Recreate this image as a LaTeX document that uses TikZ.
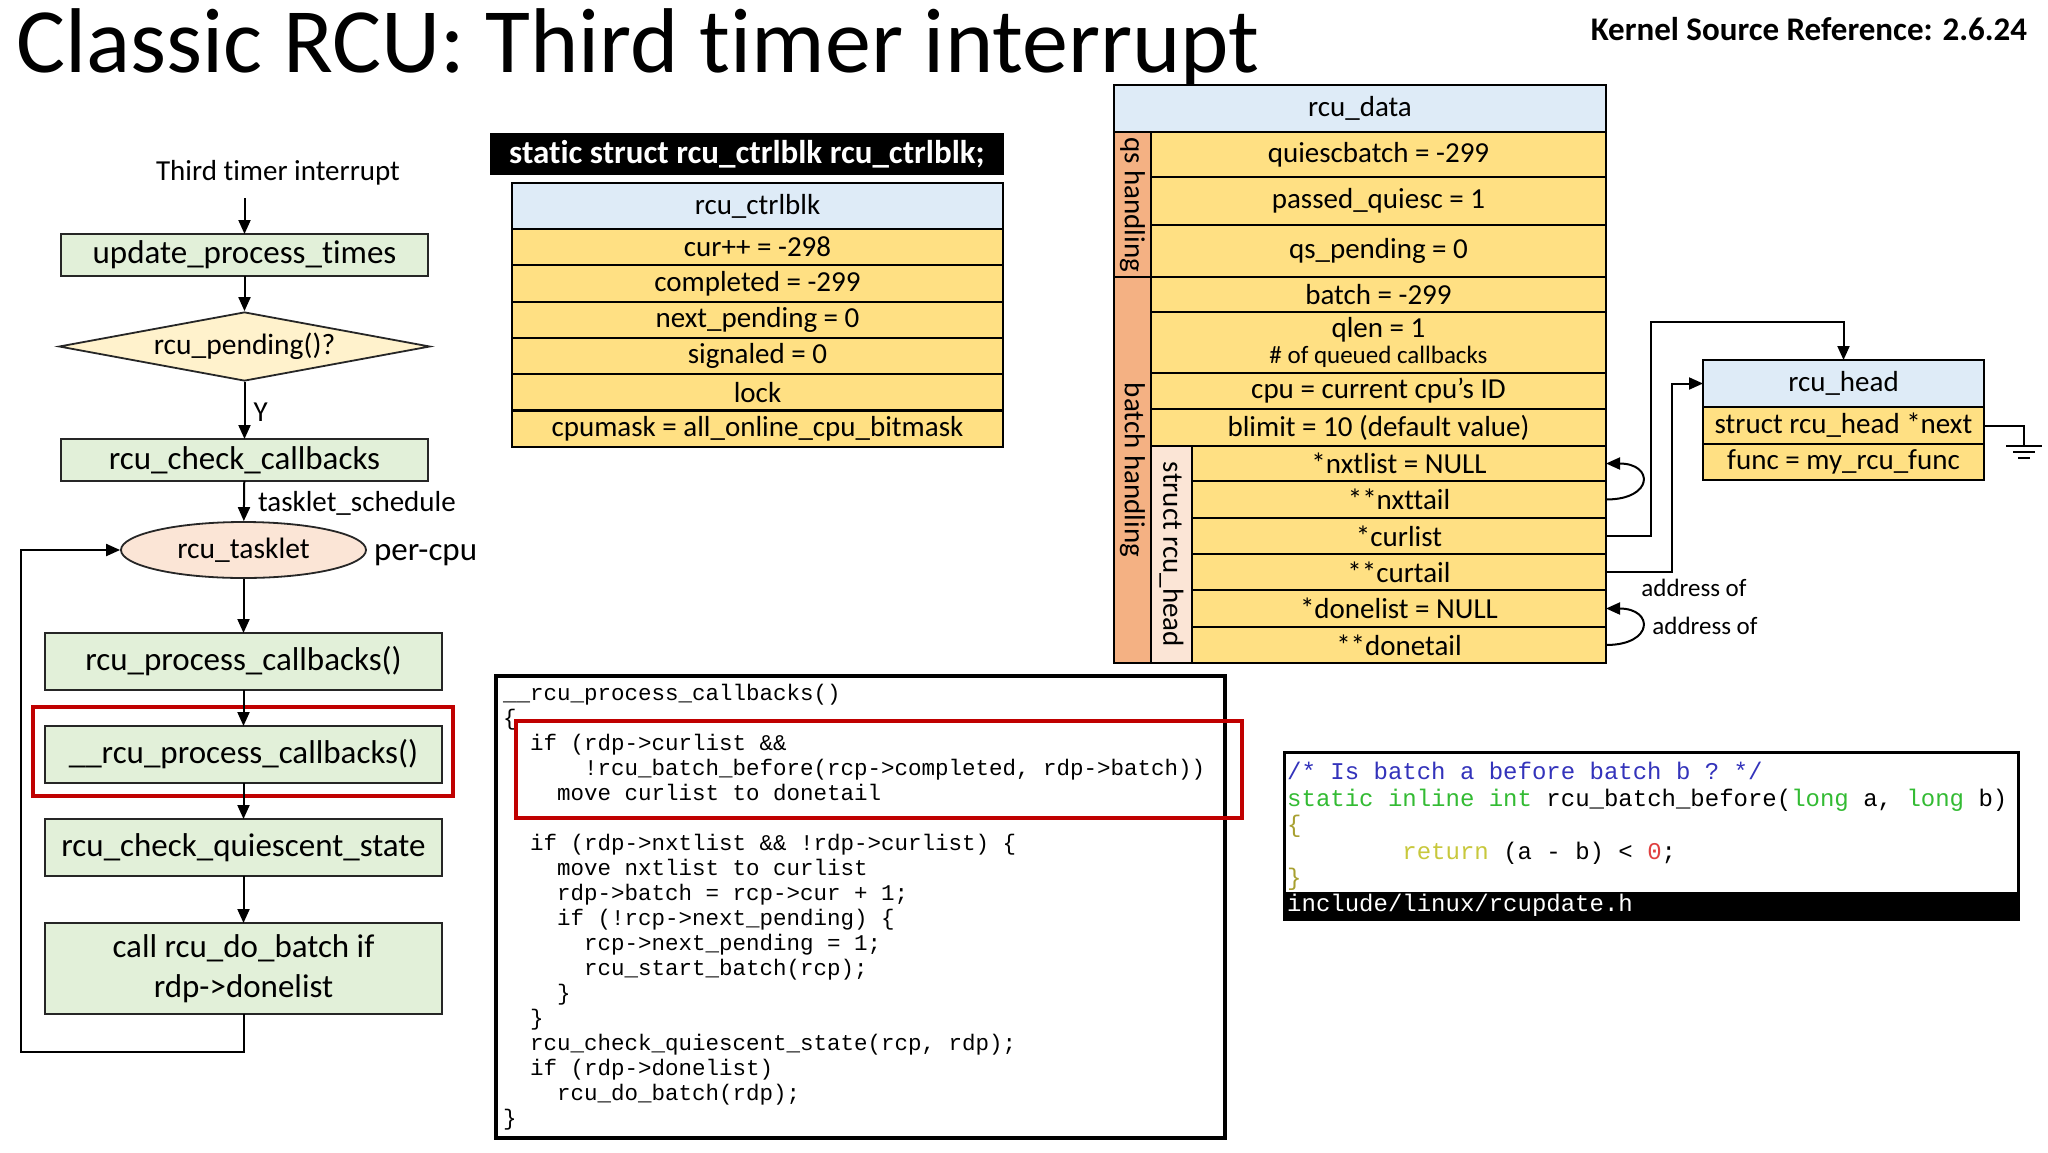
\documentclass[tikz,border=0pt]{standalone}
\usepackage{fontspec}
\setmainfont{Carlito}[Ligatures={TeX,NoCommon}]
\setmonofont{Liberation Mono}
\usetikzlibrary{arrows.meta,positioning,shapes.geometric,calc}
\definecolor{flowgreen}{HTML}{E2F0D9}
\definecolor{condyellow}{HTML}{FFF2CC}
\definecolor{taskpeach}{HTML}{FBE5D6}
\definecolor{headblue}{HTML}{DEEBF7}
\definecolor{fieldgold}{HTML}{FFE083}
\definecolor{grouporange}{HTML}{F4B183}
\definecolor{grouppink}{HTML}{FBE5D6}
\definecolor{markred}{HTML}{C00000}
\definecolor{cmtblue}{HTML}{3333BB}
\definecolor{kwgreen}{HTML}{33BB33}
\definecolor{retolive}{HTML}{C8C83C}
\definecolor{braceolive}{HTML}{A8A030}
\definecolor{numred}{HTML}{E04040}
\newcommand{\cind}[1]{\hspace*{#1\fontdimen2\font}}
\tikzset{
  flowbox/.style ={draw=black!85,line width=1.8pt,fill=flowgreen,align=center,inner sep=0pt,outer sep=0pt,
                   minimum width=397pt,minimum height=57pt,font=\fontsize{33}{40}\selectfont},
  cond/.style    ={draw=black!85,line width=1.8pt,fill=condyellow,diamond,aspect=5.4,inner sep=0pt,
                   minimum width=371pt,minimum height=69pt,font=\fontsize{29.5}{35}\selectfont},
  tasknode/.style={draw=black!85,line width=1.8pt,fill=taskpeach,ellipse,inner sep=0pt,
                   minimum width=245pt,minimum height=56pt,font=\fontsize{29.5}{35}\selectfont},
  arrow/.style   ={-{Triangle[length=14pt,width=12pt]},line width=2pt},
  note/.style    ={inner sep=0pt,font=\fontsize{29}{35}\selectfont},
  field/.style   ={draw,line width=2.2pt,fill=fieldgold,align=center,inner sep=0pt,outer sep=0pt,
                   font=\fontsize{29}{33}\selectfont},
  header/.style  ={field,fill=headblue},
  group/.style   ={draw,line width=2.2pt,rotate=-90,inner sep=0pt,outer sep=0pt,font=\fontsize{29}{33}\selectfont},
  codebox/.style ={draw,line width=4pt,fill=white,inner sep=0pt,outer sep=0pt},
  marker/.style  ={draw=markred,line width=4pt},
  code/.style    ={anchor=north west,align=left,inner sep=0pt}
}
\begin{document}
\begin{tikzpicture}[x=1pt,y=-1pt]
  \useasboundingbox (0,0) rectangle (2048,1152);
  \node[anchor=base west,inner sep=0pt,font=\fontsize{92}{100}\selectfont] (title) at (16,72) {Classic RCU: Third timer interrupt};
  \node[inner sep=0pt,font=\bfseries\fontsize{33}{40}\selectfont] (kref) at (1809,29) {Kernel Source Reference: 2.6.24};

  % flow chart
  \node[note] (trigger) at (278,173) {Third timer interrupt};
  \coordinate (entry) at (244.5,198);
  \node[flowbox,minimum width=367pt,minimum height=42pt] (upt) at (244.5,255) {update\_process\_times};
  \node[cond] (pend) at (244.5,346.5) {rcu\_pending()?};
  \node[flowbox,minimum width=367pt,minimum height=42pt] (chk) at (244.5,460) {rcu\_check\_callbacks};
  \node[tasknode] (task) at (243.5,550) {rcu\_tasklet};
  \node[note,font=\fontsize{33}{40}\selectfont,right=7pt of task,yshift=-5pt] (percpu) {per-cpu};
  \node[flowbox] (proc) at (243.5,661.5) {rcu\_process\_callbacks()};
  \node[flowbox] (uproc) at (243.5,754.5) {\_\_rcu\_process\_callbacks()};
  \node[flowbox] (quies) at (243.5,847.5) {rcu\_check\_quiescent\_state};
  \node[flowbox,minimum height=91pt] (dobatch) at (243.5,968.5) {call rcu\_do\_batch if\\rdp->donelist};
  \coordinate (loopc) at (21,1052);
  \draw[marker] (33,707) rectangle (453,796);
  \draw[arrow] (entry) -- (upt);
  \draw[arrow] (upt) -- (pend);
  \draw[arrow] (pend) -- node[note,right=8pt,yshift=-2pt] {Y} (chk);
  \draw[arrow] (chk) -- node[note,right=13pt,yshift=-2pt] {tasklet\_schedule} (task);
  \draw[arrow] (task) -- (proc);
  \draw[arrow] (proc) -- (uproc);
  \draw[arrow] (uproc) -- (quies);
  \draw[arrow] (quies) -- (dobatch);
  \draw[arrow] (dobatch.south) |- (loopc) |- (task.west);

  % rcu_ctrlblk
  \node[fill=black,text=white,inner sep=0pt,minimum width=514pt,minimum height=42pt,
        font=\bfseries\fontsize{33}{40}\selectfont] (cbtitle) at (747,154) {static struct rcu\_ctrlblk rcu\_ctrlblk;};
  \node[header,minimum width=491pt,minimum height=46pt] (cbhead) at (757.5,206) {rcu\_ctrlblk};
  \node[field,minimum width=491pt,minimum height=36.3pt,below=0pt of cbhead] (cbcur) {cur++ = -298};
  \node[field,minimum width=491pt,minimum height=36.3pt,below=0pt of cbcur]  (cbdone) {completed = -299};
  \node[field,minimum width=491pt,minimum height=36.3pt,below=0pt of cbdone] (cbnext) {next\_pending = 0};
  \node[field,minimum width=491pt,minimum height=36.3pt,below=0pt of cbnext] (cbsig) {signaled = 0};
  \node[field,minimum width=491pt,minimum height=36.3pt,below=0pt of cbsig]  (cblock) {lock};
  \node[field,minimum width=491pt,minimum height=36.3pt,below=0pt of cblock] (cbmask) {cpumask = all\_online\_cpu\_bitmask};

  % rcu_data
  \node[header,minimum width=492pt,minimum height=47pt] (dhead) at (1360,108.5) {rcu\_data};
  \node[field,minimum width=455pt,minimum height=45pt,anchor=north east] (dqb) at (dhead.south east) {quiescbatch = -299};
  \node[field,minimum width=455pt,minimum height=48pt,below=0pt of dqb]   (dpq) {passed\_quiesc = 1};
  \node[field,minimum width=455pt,minimum height=52pt,below=0pt of dpq]   (dqsp) {qs\_pending = 0};
  \node[field,minimum width=455pt,minimum height=35pt,below=0pt of dqsp]  (dbatch) {batch = -299};
  \node[field,minimum width=455pt,minimum height=61pt,below=0pt of dbatch] (dqlen) {qlen = 1\\[-7pt]{\fontsize{25}{30}\selectfont\# of queued callbacks}};
  \node[field,minimum width=455pt,minimum height=36pt,below=0pt of dqlen] (dcpu) {cpu = current cpu's ID};
  \node[field,minimum width=455pt,minimum height=37pt,below=0pt of dcpu]  (dblimit) {blimit = 10 (default value)};
  \node[field,minimum width=414pt,minimum height=35pt,anchor=north east] (nxtlist) at (dblimit.south east) {*nxtlist = NULL};
  \node[field,minimum width=414pt,minimum height=37pt,below=0pt of nxtlist]  (nxttail) {**nxttail};
  \node[field,minimum width=414pt,minimum height=36pt,below=0pt of nxttail]  (curlist) {*curlist};
  \node[field,minimum width=414pt,minimum height=36pt,below=0pt of curlist]  (curtail) {**curtail};
  \node[field,minimum width=414pt,minimum height=37pt,below=0pt of curtail]  (donelist) {*donelist = NULL};
  \node[field,minimum width=414pt,minimum height=36pt,below=0pt of donelist] (donetail) {**donetail};
  \node[group,fill=grouporange,minimum width=145pt,minimum height=37pt] (qsgrp) at (1132.5,204.5) {qs handling};
  \node[group,fill=grouporange,minimum width=386pt,minimum height=37pt] (bgrp) at (1132.5,470) {batch handling};
  \node[group,fill=grouppink,minimum width=217pt,minimum height=41pt] (hgrp) at (1171.5,554.5) {struct rcu\_head};

  % rcu_head
  \node[header,minimum width=281pt,minimum height=47pt] (hhead) at (1843.5,383.5) {rcu\_head};
  \node[field,minimum width=281pt,minimum height=37pt,below=0pt of hhead] (hnext) {struct rcu\_head *next};
  \node[field,minimum width=281pt,minimum height=36pt,below=0pt of hnext] (hfunc) {func = my\_rcu\_func};
  \coordinate (up) at (1651,322);
  \coordinate (gnd) at (2024,446);
  \draw[arrow] (curlist.east) -| (up) -| (hhead.north);
  \draw[arrow] (curtail.east) -- ++(66,0) |- (hhead.west);
  \draw[arrow] (nxttail.east) .. controls +(48,0) and +(48,0) .. (nxtlist.east);
  \draw[arrow] (donetail.east) .. controls +(48,0) and +(48,0) .. (donelist.east);
  \draw[line width=2pt] (hnext.east) -| (gnd);
  \draw[line width=2pt] ($(gnd)+(-18,0)$) -- ++(36,0)
                        ($(gnd)+(-11,6)$) -- ++(22,0)
                        ($(gnd)+(-6,12)$) -- ++(12,0);
  \node[note,font=\fontsize{25}{30}\selectfont] (addrA) at (1694,588) {address of};
  \node[note,font=\fontsize{25}{30}\selectfont] (addrB) at (1705,626) {address of};

  % __rcu_process_callbacks() code
  \node[codebox,minimum width=729pt,minimum height=462pt] (pbox) at (860.5,907) {};
  \node[code,font=\ttfamily\fontsize{22.5}{25}\selectfont] (pcode) at (503,684) {%
    \_\_rcu\_process\_callbacks()\\
    \{\\
    \cind{2}if (rdp->curlist \&\&\\
    \cind{6}!rcu\_batch\_before(rcp->completed, rdp->batch))\\
    \cind{4}move curlist to donetail\\
    \mbox{}\\
    \cind{2}if (rdp->nxtlist \&\& !rdp->curlist) \{\\
    \cind{4}move nxtlist to curlist\\
    \cind{4}rdp->batch = rcp->cur + 1;\\
    \cind{4}if (!rcp->next\_pending) \{\\
    \cind{6}rcp->next\_pending = 1;\\
    \cind{6}rcu\_start\_batch(rcp);\\
    \cind{4}\}\\
    \cind{2}\}\\
    \cind{2}rcu\_check\_quiescent\_state(rcp, rdp);\\
    \cind{2}if (rdp->donelist)\\
    \cind{4}rcu\_do\_batch(rdp);\\
    \}};
  \draw[marker] (516,721) rectangle (1242,818);

  % rcu_batch_before() code
  \node[codebox,line width=3pt,minimum width=734pt,minimum height=167pt] (hbox) at (1651,835.5) {};
  \node[fill=black,inner sep=0pt,outer sep=0pt,minimum width=734pt,minimum height=27pt,anchor=south west] (hstrip) at (hbox.south west) {};
  \node[code,font=\ttfamily\fontsize{24}{26.5}\selectfont] (hcode) at (1287,762) {%
    \textcolor{cmtblue}{/* Is batch a before batch b ? */}\\
    \textcolor{kwgreen}{static inline int} rcu\_batch\_before(\textcolor{kwgreen}{long} a, \textcolor{kwgreen}{long} b)\\
    \textcolor{braceolive}{\{}\\
    \cind{8}\textcolor{retolive}{return} (a - b) < \textcolor{numred}{0};\\
    \textcolor{braceolive}{\}}};
  \node[anchor=west,inner sep=0pt,text=white,font=\ttfamily\fontsize{24}{26.5}\selectfont] (hpath) at ($(hstrip.west)+(3,0)$) {include/linux/rcupdate.h};
\end{tikzpicture}
\end{document}
